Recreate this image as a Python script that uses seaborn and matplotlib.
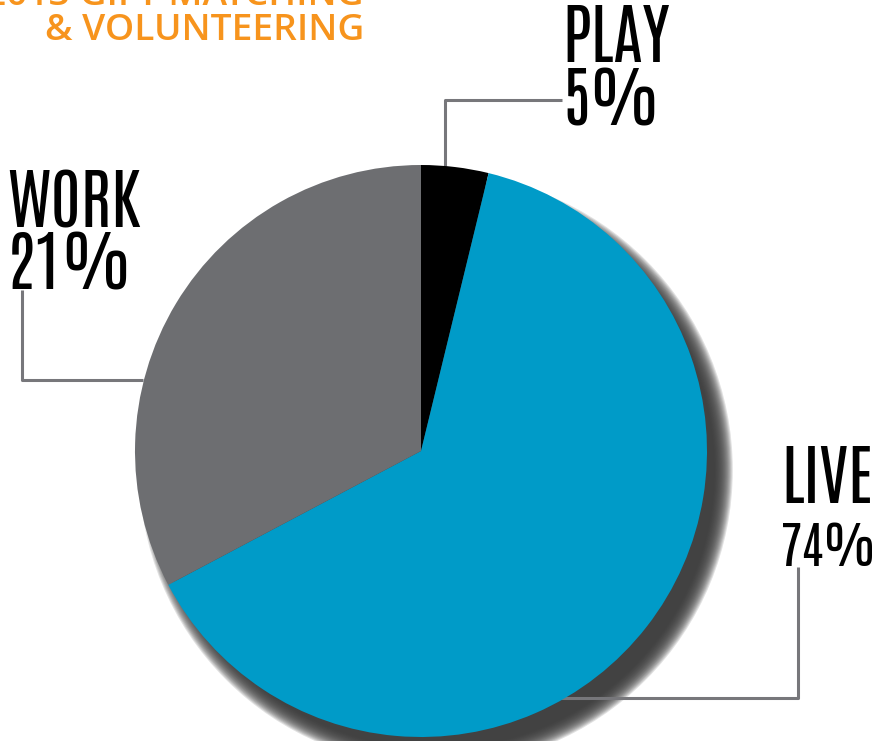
import matplotlib
matplotlib.use("Agg")
import matplotlib.pyplot as plt
import seaborn as sns
from matplotlib.font_manager import FontProperties
from matplotlib.textpath import TextPath
from matplotlib.patches import Circle

# ---- data ----
categories = ["PLAY", "LIVE", "WORK"]
slice_sizes = [3.8, 63.45, 32.75]          # slice extents as drawn
label_values = ["5%", "74%", "21%"]         # printed labels
colors = ["#000000", "#009BC8", "#6D6E71"]
title_lines = ["2013 GIFT MATCHING", "& VOLUNTEERING"]

sns.set_theme(style="white")
plt.rcParams["font.family"] = ["DejaVu Sans"]

W, H = 882, 741
fig = plt.figure(figsize=(W / 100, H / 100), dpi=100)
ax = fig.add_axes([0, 0, 1, 1])

def py(y):  # pixel-from-top to data y
    return H - y

cx, cy, R = 421, 451, 286

# shadow (blurred, offset down-right)
sx, sy = cx + 15, cy + 19
N = 18
blur = 18
for k in range(N):
    r = R + blur * (1 - k / (N - 1)) - blur * 0.4
    ax.add_patch(Circle((sx, py(sy)), r, color="#3a3a3a", alpha=0.15, lw=0, zorder=1))

# leader lines
lc = "#77777b"
lw = 2.2
ax.plot([445, 445, 562], [py(166), py(100), py(100)], color=lc, lw=lw, zorder=2, solid_capstyle="butt")
ax.plot([22, 22, 143], [py(290), py(380), py(380)], color=lc, lw=lw, zorder=2, solid_capstyle="butt")
ax.plot([798, 798, 560], [py(567), py(698), py(698)], color=lc, lw=lw, zorder=2, solid_capstyle="butt")

# pie
wedges, _ = ax.pie(slice_sizes, colors=colors, startangle=90, counterclock=False,
                   center=(cx, py(cy)), radius=R, frame=True,
                   wedgeprops=dict(linewidth=0))
for w in wedges:
    w.set_zorder(3)
ax.set_xlim(0, W)
ax.set_ylim(0, H)
ax.axis("off")

# label font sized to cap height
fp = FontProperties(family="Antonio", weight=400)
cap = TextPath((0, 0), "H", size=100, prop=fp).get_extents().height
def size_for_cap(px):
    return px / cap * 100 * 72 / 100

def size_for_width(s, px):
    wdt = TextPath((0, 0), s, size=100, prop=fp).get_extents().width
    return px / wdt * 100 * 72 / 100

fs = size_for_cap(57)
label_pos = {"PLAY": (562, 62, 125), "LIVE": (781, 503, 566), "WORK": (7, 227, 290)}
for cat, val in zip(categories, label_values):
    x, b1, b2 = label_pos[cat]
    vfs = min(fs, size_for_width(val, 870 - x))
    ax.text(x, py(b1), cat, fontproperties=fp, fontsize=fs, ha="left", va="baseline", color="black", zorder=5)
    ax.text(x, py(b2), val, fontproperties=fp, fontsize=vfs, ha="left", va="baseline", color="black", zorder=5)

# title (partly cut at top, as in the reference)
tp = FontProperties(family="Open Sans", weight=600)
tcap = TextPath((0, 0), "H", size=100, prop=tp).get_extents().height
tfs = 26.5 / tcap * 100 * 72 / 100
ax.text(364, py(5), title_lines[0], fontproperties=tp, fontsize=tfs, ha="right", va="baseline", color="#F7941D", zorder=5)
ax.text(364, py(40), title_lines[1], fontproperties=tp, fontsize=tfs, ha="right", va="baseline", color="#F7941D", zorder=5)

fig.savefig("out.png", dpi=100)
